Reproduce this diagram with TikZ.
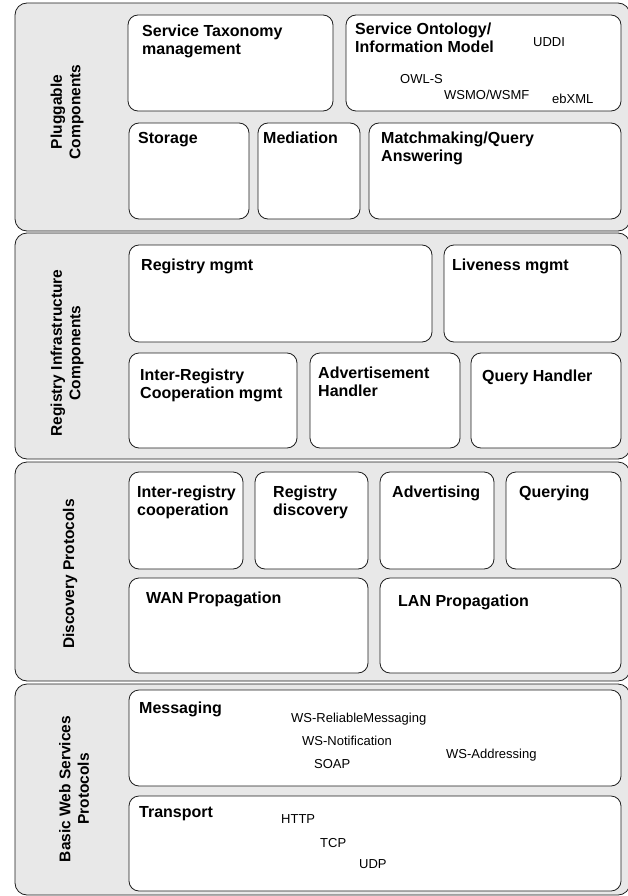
\documentclass[tikz,border=0pt]{standalone}
\usepackage{fontspec}
\setmainfont{Liberation Sans}
\definecolor{panelgray}{RGB}{232,232,232}
\definecolor{edge}{RGB}{30,30,30}
\tikzset{
  panel/.style={draw=edge, fill=panelgray, line width=0.8pt, rounded corners=12pt, inner sep=0pt, outer sep=0pt},
  blk/.style={draw=edge, fill=white, line width=0.8pt, rounded corners=10pt, inner sep=0pt, outer sep=0pt},
  ttl/.style={anchor=base west, inner sep=0pt, font=\bfseries\fontsize{16}{18}\selectfont},
  tag/.style={anchor=base west, inner sep=0pt, font=\fontsize{13}{15}\selectfont},
  lbl/.style={rotate=90, align=center, inner sep=0pt, font=\bfseries\fontsize{15.5}{18.5}\selectfont}
}
% rounded box from corner (x1,y1) to corner (x2,y2)
\newcommand\rbox[6]{\node[#1, minimum width={(#5-#3)*1pt}, minimum height={(#6-#4)*1pt}] (#2) at ({(#3+#5)/2},{(#4+#6)/2}) {};}
\begin{document}
\begin{tikzpicture}[x=1pt, y=-1pt]
\useasboundingbox (0,0) rectangle (628,896);

% layer panels (right edges run just past the page)
\rbox{panel}{p1}{15}{3}{630}{231}
\rbox{panel}{p2}{15}{233}{630}{459}
\rbox{panel}{p3}{15}{462}{630}{681}
\rbox{panel}{p4}{15}{684}{630}{895}

\node[lbl] (l1) at (67,112) {Pluggable\\Components};
\node[lbl] (l2) at (67,353) {Registry Infrastructure\\Components};
\node[lbl] (l3) at (70,574) {Discovery Protocols};
\node[lbl] (l4) at (74,789) {Basic Web Services\\Protocols};

% pluggable components
\rbox{blk}{tax}{128}{15}{333}{111}
\rbox{blk}{ont}{346}{15}{621}{111}
\rbox{blk}{sto}{129}{123}{249}{219}
\rbox{blk}{med}{258}{123}{360}{219}
\rbox{blk}{mat}{369}{123}{621}{219}

\node[ttl] (tax1) at (142,37) {Service Taxonomy};
\node[ttl] (tax2) at (142,55) {management};
\node[ttl] (ont1) at (355,35) {Service Ontology/};
\node[ttl] (ont2) at (355,53) {Information Model};
\node[tag] (uddi) at (533,47) {UDDI};
\node[tag] (owls) at (400,84) {OWL-S};
\node[tag] (wsmo) at (444,100) {WSMO/WSMF};
\node[tag] (ebxml) at (552,104) {ebXML};
\node[ttl] (sto1) at (138,144) {Storage};
\node[ttl] (med1) at (263,144) {Mediation};
\node[ttl] (mat1) at (381,144) {Matchmaking/Query};
\node[ttl] (mat2) at (381,162) {Answering};

% registry infrastructure components
\rbox{blk}{reg}{129}{245}{432}{342}
\rbox{blk}{liv}{444}{245}{621}{342}
\rbox{blk}{irc}{129}{353}{297}{448}
\rbox{blk}{adh}{310}{353}{460}{448}
\rbox{blk}{qh}{471}{353}{621}{448}

\node[ttl] (reg1) at (141,270) {Registry mgmt};
\node[ttl] (liv1) at (452,270) {Liveness mgmt};
\node[ttl] (irc1) at (140,380) {Inter-Registry};
\node[ttl] (irc2) at (140,398) {Cooperation mgmt};
\node[ttl] (adh1) at (318,378) {Advertisement};
\node[ttl] (adh2) at (318,396) {Handler};
\node[ttl] (qh1) at (482,381) {Query Handler};

% discovery protocols
\rbox{blk}{ircp}{129}{472}{243}{569}
\rbox{blk}{rdp}{255}{472}{368}{569}
\rbox{blk}{adp}{380}{472}{494}{569}
\rbox{blk}{qp}{506}{472}{621}{569}
\rbox{blk}{wan}{129}{578}{368}{673}
\rbox{blk}{lan}{380}{578}{621}{673}

\node[ttl] (ircp1) at (137,497) {Inter-registry};
\node[ttl] (ircp2) at (137,515) {cooperation};
\node[ttl] (rdp1) at (273,497) {Registry};
\node[ttl] (rdp2) at (273,515) {discovery};
\node[ttl] (adp1) at (392,497) {Advertising};
\node[ttl] (qp1) at (519,497) {Querying};
\node[ttl] (wan1) at (146,603) {WAN Propagation};
\node[ttl] (lan1) at (398,606) {LAN Propagation};

% basic web services protocols
\rbox{blk}{msg}{129}{690}{621}{786}
\rbox{blk}{trn}{129}{796}{621}{891}

\node[ttl] (msg1) at (139,713) {Messaging};
\node[tag] (wsrm) at (291,722) {WS-ReliableMessaging};
\node[tag] (wsn) at (302,745) {WS-Notification};
\node[tag] (soap) at (314,768) {SOAP};
\node[tag] (wsa) at (446,758) {WS-Addressing};
\node[ttl] (trn1) at (139,817) {Transport};
\node[tag] (http) at (281,823) {HTTP};
\node[tag] (tcp) at (320,847) {TCP};
\node[tag] (udp) at (359,868) {UDP};
\end{tikzpicture}
\end{document}
